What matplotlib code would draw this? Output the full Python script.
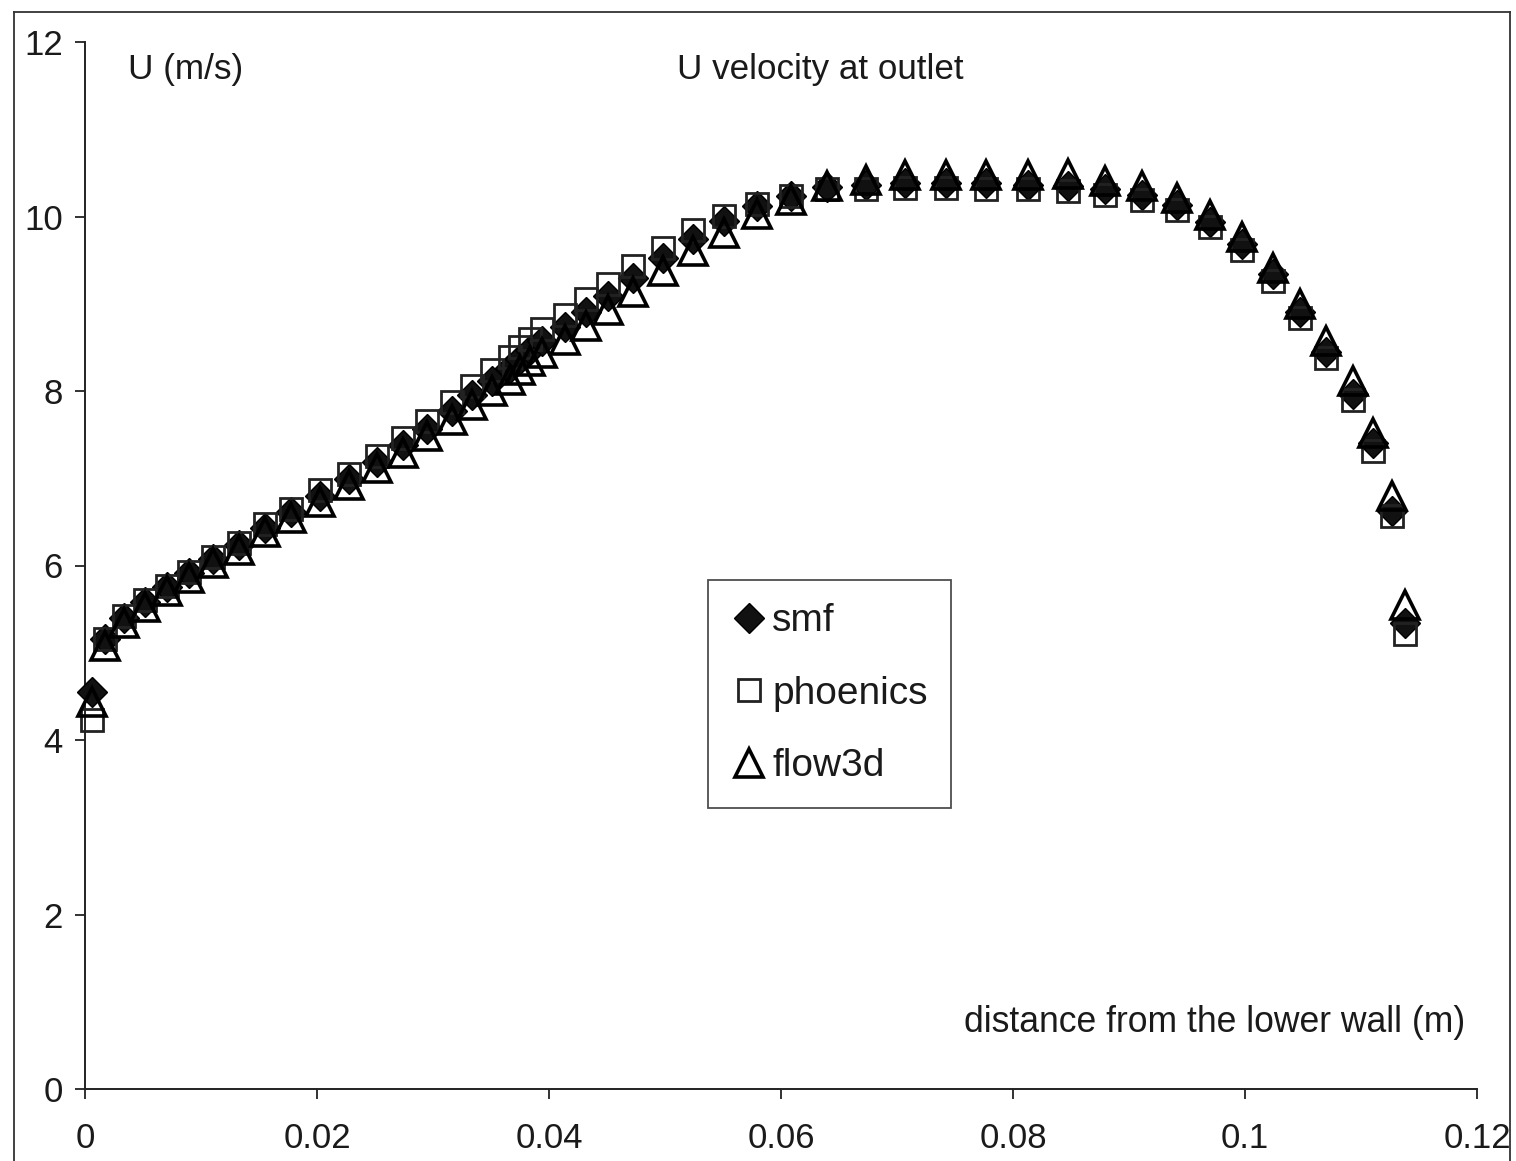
import matplotlib
matplotlib.use("Agg")
import matplotlib.pyplot as plt
from matplotlib.lines import Line2D

plt.rcParams['font.family'] = ['Liberation Sans', 'DejaVu Sans']

# ---- data ----
distance = [0.0006, 0.0017, 0.0034, 0.0052, 0.0071, 0.0090, 0.0110, 0.0133, 0.0155, 0.0178,
            0.0203, 0.0228, 0.0252, 0.0274, 0.0295, 0.0316, 0.0334, 0.0351, 0.0366, 0.0375,
            0.0384, 0.0394, 0.0414, 0.0432, 0.0451, 0.0472, 0.0498, 0.0524, 0.0551, 0.0579,
            0.0609, 0.0640, 0.0673, 0.0707, 0.0742, 0.0777, 0.0813, 0.0847, 0.0879, 0.0911,
            0.0941, 0.0970, 0.0997, 0.1024, 0.1047, 0.1070, 0.1093, 0.1110, 0.1127, 0.1138]

smf = [4.55, 5.16, 5.40, 5.58, 5.75, 5.91, 6.07, 6.23, 6.43, 6.61,
       6.80, 6.99, 7.19, 7.38, 7.57, 7.77, 7.95, 8.12, 8.26, 8.37,
       8.47, 8.57, 8.73, 8.91, 9.09, 9.30, 9.52, 9.74, 9.95, 10.12,
       10.24, 10.34, 10.36, 10.38, 10.38, 10.38, 10.36, 10.35, 10.31, 10.25,
       10.13, 9.94, 9.68, 9.34, 8.91, 8.45, 7.97, 7.40, 6.62, 5.34]

phoenics = [4.23, 5.16, 5.42, 5.60, 5.77, 5.93, 6.10, 6.26, 6.47, 6.65,
            6.86, 7.05, 7.26, 7.46, 7.66, 7.87, 8.06, 8.24, 8.39, 8.50,
            8.60, 8.71, 8.87, 9.05, 9.23, 9.43, 9.64, 9.85, 10.01, 10.14,
            10.23, 10.31, 10.32, 10.33, 10.33, 10.32, 10.31, 10.29, 10.25, 10.19,
            10.08, 9.88, 9.62, 9.26, 8.84, 8.38, 7.90, 7.31, 6.57, 5.22]

flow3d = [4.43, 5.08, 5.34, 5.53, 5.71, 5.86, 6.03, 6.18, 6.38, 6.55,
          6.73, 6.92, 7.12, 7.29, 7.48, 7.67, 7.84, 8.00, 8.13, 8.24,
          8.34, 8.43, 8.58, 8.74, 8.93, 9.14, 9.37, 9.60, 9.81, 10.03,
          10.19, 10.35, 10.42, 10.47, 10.48, 10.48, 10.48, 10.49, 10.41, 10.35,
          10.21, 10.02, 9.76, 9.41, 9.00, 8.57, 8.11, 7.52, 6.80, 5.55]

x_ticks = [0, 0.02, 0.04, 0.06, 0.08, 0.1, 0.12]
x_tick_labels = ["0", "0.02", "0.04", "0.06", "0.08", "0.1", "0.12"]
y_ticks = [0, 2, 4, 6, 8, 10, 12]
y_tick_labels = ["0", "2", "4", "6", "8", "10", "12"]

series_names = ["smf", "phoenics", "flow3d"]

# ---- figure ----
W, H = 1516, 1161
fig = plt.figure(figsize=(W / 100, H / 100), dpi=100)
fig.patch.set_facecolor("white")

ax_l, ax_r, ax_t, ax_b = 85, 1477, 42, 1089
ax = fig.add_axes([ax_l / W, 1 - ax_b / H, (ax_r - ax_l) / W, (ax_b - ax_t) / H])

ax.plot(distance, smf, linestyle="none", marker="D", markersize=15,
        color="black", markerfacecolor="#111111", markeredgecolor="black",
        markeredgewidth=1.0, clip_on=False, label=series_names[0], zorder=3)
ax.plot(distance, phoenics, linestyle="none", marker="s", markersize=16,
        markerfacecolor="none", markeredgecolor="#222222",
        markeredgewidth=2.0, clip_on=False, label=series_names[1], zorder=4)
ax.plot(distance, flow3d, linestyle="none", marker="^", markersize=20,
        markerfacecolor="none", markeredgecolor="black",
        markeredgewidth=2.6, clip_on=False, label=series_names[2], zorder=5)

ax.set_xlim(0, 0.12)
ax.set_ylim(0, 12)
ax.set_xticks(x_ticks)
ax.set_xticklabels(x_tick_labels)
ax.set_yticks(y_ticks)
ax.set_yticklabels(y_tick_labels)

for s in ["top", "right"]:
    ax.spines[s].set_visible(False)
for s in ["left", "bottom"]:
    ax.spines[s].set_linewidth(1.4)
    ax.spines[s].set_color("#222222")

ax.tick_params(axis="both", direction="out", length=7, width=1.3,
               colors="#222222", labelsize=25, labelcolor="#1a1a1a")
ax.tick_params(axis="x", pad=17)
ax.tick_params(axis="y", pad=9)
ax.set_facecolor("none")

ax.text((128 - ax_l) / (ax_r - ax_l), (ax_b - 70) / (ax_b - ax_t), "U (m/s)",
        transform=ax.transAxes, fontsize=25.3, ha="left", va="center", color="#1a1a1a")
ax.text((677 - ax_l) / (ax_r - ax_l), (ax_b - 70) / (ax_b - ax_t), "U velocity at outlet",
        transform=ax.transAxes, fontsize=25.2, ha="left", va="center", color="#1a1a1a")
ax.text((1465 - ax_l) / (ax_r - ax_l), (ax_b - 1022) / (ax_b - ax_t),
        "distance from the lower wall (m)",
        transform=ax.transAxes, fontsize=25.6, ha="right", va="center", color="#1a1a1a")

leg = ax.legend(loc="upper left", bbox_to_anchor=(708 / W, 1 - 580 / H),
                bbox_transform=fig.transFigure, fontsize=28, frameon=True,
                fancybox=False, shadow=False, borderpad=0.6, labelspacing=0.94,
                handlelength=0.9, handletextpad=0.15, borderaxespad=0.0)
leg.get_frame().set_edgecolor("#222222")
leg.get_frame().set_linewidth(1.3)
for t in leg.get_texts():
    t.set_color("#1a1a1a")

# outer border
for (xs, ys) in [([14, 14], [12, H]), ([14, 1510], [12, 12]), ([1510, 1510], [12, H])]:
    fig.add_artist(Line2D([x / W for x in xs], [1 - y / H for y in ys],
                          transform=fig.transFigure, color="#333333", linewidth=1.3))

fig.savefig("out.png", dpi=100)
